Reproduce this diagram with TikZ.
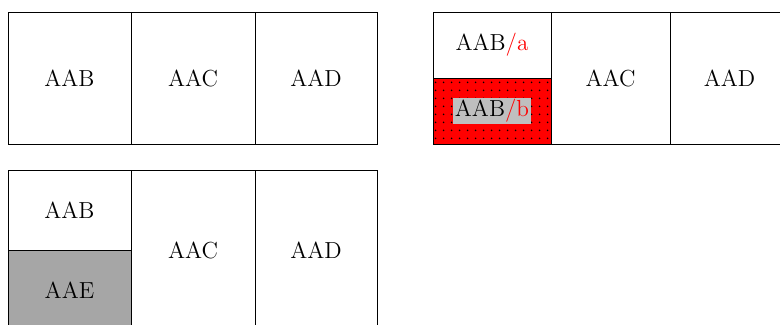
\documentclass[tikz,border=0pt]{standalone}
\usepackage{tikz}
\usetikzlibrary{patterns.meta}
\tikzset{
  cell/.style={draw, inner sep=0pt, font=\fontsize{11.6pt}{14pt}\selectfont},
  redcell/.style={cell, fill=red, postaction={pattern={Dots[distance=4pt, radius=0.5pt, xshift=2pt, yshift=1.7pt]}, pattern color=black}},
  greycell/.style={cell, fill=gray!70},
  tag/.style={fill=lightgray, inner sep=0.8pt, font=\fontsize{11.6pt}{14pt}\selectfont}
}
\def\cellbox(#1,#2,#3,#4,#5,#6){
  \node[cell, minimum width=#4, minimum height=#5] (#1) at (#2,#3) {#6};
}

\begin{document}
\begin{tikzpicture}[x=0.5pt,y=0.5pt]
\clip (0,0) rectangle (780,325);
\cellbox(tlb,69.5,247,61.5pt,66pt,AAB)
\cellbox(tlc,193,247,62pt,66pt,AAC)
\cellbox(tld,316,247,61pt,66pt,AAD)
\node[cell, minimum width=59pt, minimum height=33pt] (tra) at (492,280) {AAB\textcolor{red}{/a}};
\node[redcell, minimum width=59pt, minimum height=33pt] (trb) at (492,214) {};
\node[tag] (trbtag) at (trb.center) {AAB\textcolor{red}{/b}};
\cellbox(trc,610.5,247,59.5pt,66pt,AAC)
\cellbox(trd,729.5,247,59.5pt,66pt,AAD)
\cellbox(blb,69.5,115,61.5pt,40pt,AAB)
\node[greycell, minimum width=61.5pt, minimum height=40pt] (ble) at (69.5,35) {AAE};
\cellbox(blc,193,75,62pt,80pt,AAC)
\cellbox(bld,316,75,61pt,80pt,AAD)
\end{tikzpicture}
\end{document}
